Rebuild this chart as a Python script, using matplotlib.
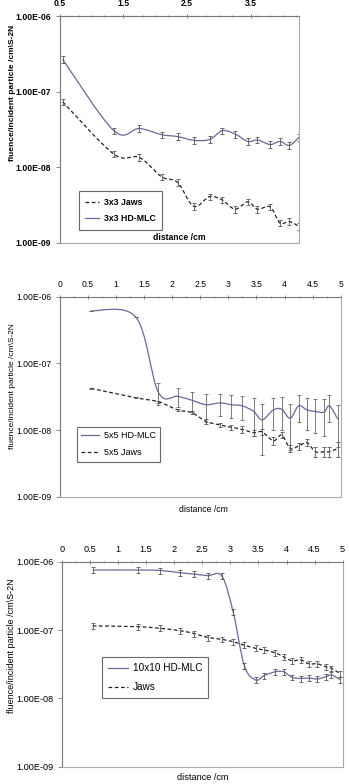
import numpy as np
import matplotlib
matplotlib.use('Agg')
import matplotlib.pyplot as plt
from matplotlib.path import Path
from matplotlib.patches import PathPatch
from matplotlib.lines import Line2D
from matplotlib.ticker import FixedLocator, MultipleLocator, FuncFormatter, NullLocator

plt.rcParams['font.family'] = ['Liberation Sans', 'DejaVu Sans']

# ---- data ----
x_3x3 = [0.55, 1.35, 1.75, 2.1, 2.35, 2.6, 2.85, 3.05, 3.25, 3.45, 3.6, 3.8, 3.95, 4.1, 4.25]
jaws_3x3 = [7.35e-8, 1.5e-8, 1.35e-8, 7.5e-9, 6.3e-9, 3.05e-9, 4.1e-9, 3.7e-9, 2.8e-9,
            3.5e-9, 2.8e-9, 3.0e-9, 1.84e-9, 1.92e-9, 1.66e-9]
mlc_3x3 = [2.67e-7, 3.05e-8, 3.26e-8, 2.7e-8, 2.55e-8, 2.28e-8, 2.33e-8, 3.05e-8, 2.75e-8,
           2.2e-8, 2.3e-8, 2.0e-8, 2.2e-8, 1.95e-8, 2.5e-8]
rel_err_3x3 = [0.10] * 15

x_5x5 = [0.55, 1.35, 1.75, 2.1, 2.35, 2.6, 2.85, 3.05, 3.25, 3.45, 3.6, 3.8, 3.95, 4.1,
         4.25, 4.4, 4.55, 4.7, 4.8, 4.95]
mlc_5x5 = [6.15e-7, 4.95e-7, 3.7e-8, 3.2e-8, 2.8e-8, 2.4e-8, 2.55e-8, 2.4e-8, 2.3e-8, 1.9e-8,
           1.42e-8, 2.0e-8, 2.05e-8, 1.5e-8, 2.3e-8, 2.0e-8, 1.9e-8, 1.85e-8, 2.3e-8, 1.45e-8]
err_mlc_5x5 = [5e-9, 4e-9, 1.3e-8, 1.0e-8, 0.95e-8, 1.1e-8, 0.9e-8, 0.9e-8, 0.9e-8, 1.1e-8,
               1.0e-8, 1.0e-8, 1.05e-8, 1.0e-8, 1.0e-8, 1.0e-8, 1.0e-8, 1.05e-8, 1.0e-8, 0.9e-8]
jaws_5x5 = [4.22e-8, 3.05e-8, 2.66e-8, 2.0e-8, 1.82e-8, 1.35e-8, 1.19e-8, 1.1e-8, 1.02e-8,
            9.1e-9, 9.4e-9, 6.9e-9, 8.4e-9, 5.3e-9, 5.75e-9, 6.45e-9, 4.73e-9, 4.73e-9,
            4.73e-9, 5.3e-9]
rel_err_jaws_5x5 = [0.02, 0.02, 0.04, 0.05, 0.06, 0.08, 0.08, 0.10, 0.11, 0.11, 0.10, 0.13,
                    0.10, 0.13, 0.12, 0.12, 0.18, 0.18, 0.17, 0.25]

x_10x10 = x_5x5
mlc_10x10 = [7.55e-7, 7.55e-7, 7.45e-7, 6.9e-7, 6.6e-7, 6.25e-7, 6.15e-7, 1.85e-7, 3.0e-8,
             1.86e-8, 2.15e-8, 2.45e-8, 2.45e-8, 2.03e-8, 1.96e-8, 1.98e-8, 1.92e-8, 2.07e-8,
             2.2e-8, 1.88e-8]
jaws_10x10 = [1.15e-7, 1.12e-7, 1.06e-7, 9.8e-8, 8.9e-8, 7.8e-8, 7.3e-8, 6.75e-8, 6.0e-8,
              5.4e-8, 5.1e-8, 4.65e-8, 4.05e-8, 3.55e-8, 3.65e-8, 3.2e-8, 3.2e-8, 2.9e-8,
              2.75e-8, 2.3e-8]
rel_err_10x10 = [0.10] * 20

ticks_3x3 = [0.5, 1.5, 2.5, 3.5]
ticks_5 = [0, 0.5, 1, 1.5, 2, 2.5, 3, 3.5, 4, 4.5, 5]
ylabel = 'fluence/incident particle /cm\\S-2N'

MLC_COLOR = '#6a6a9a'
JAWS_COLOR = '#222222'
ERR_COLOR = '#555555'
DASH = (0, (3, 2))


def smooth_path(x, y):
    # Excel-like smoothed line: Catmull-Rom Bezier in (x, log y)
    P = np.column_stack([np.asarray(x, float), np.log10(y)])
    Pe = np.vstack([P[0], P, P[-1]])
    verts = [P[0]]
    codes = [Path.MOVETO]
    for i in range(len(P) - 1):
        p0, p1, p2, p3 = Pe[i], Pe[i + 1], Pe[i + 2], Pe[i + 3]
        verts += [p1 + (p2 - p0) / 6, p2 - (p3 - p1) / 6, p2]
        codes += [Path.CURVE4] * 3
    verts = np.array(verts)
    verts[:, 1] = 10 ** verts[:, 1]
    return Path(verts, codes)


def draw_series(ax, x, y, err, color, ls, ecolor=ERR_COLOR):
    ax.add_patch(PathPatch(smooth_path(x, y), fill=False, ec=color, lw=0.9, ls=ls))
    ax.errorbar(x, y, yerr=err, fmt='none', ecolor=ecolor, elinewidth=0.6,
                capsize=1.6, capthick=0.6)


def style_axes(ax, xlim, ticks, minor, weight, size):
    ax.set_yscale('log')
    ax.set_ylim(1e-9, 1e-6)
    ax.set_xlim(*xlim)
    ax.xaxis.tick_top()
    ax.xaxis.set_major_locator(FixedLocator(ticks))
    ax.xaxis.set_minor_locator(MultipleLocator(minor))
    ax.xaxis.set_major_formatter(FuncFormatter(lambda v, p: '%g' % v))
    ax.yaxis.set_major_locator(FixedLocator([1e-9, 1e-8, 1e-7, 1e-6]))
    ax.yaxis.set_minor_locator(NullLocator())
    ax.yaxis.set_major_formatter(FuncFormatter(lambda v, p: '%.2E' % v))
    ax.tick_params(axis='x', which='major', direction='inout', length=3, width=0.6,
                   color='#777777', labelsize=size, pad=4)
    ax.tick_params(axis='x', which='minor', direction='inout', length=2, width=0.5,
                   color='#777777')
    ax.tick_params(axis='y', which='major', direction='out', length=3, width=0.6,
                   color='#777777', labelsize=size, pad=3)
    for lab in ax.get_xticklabels() + ax.get_yticklabels():
        lab.set_fontweight(weight)
    for side in ['left', 'top']:
        ax.spines[side].set_color('#777777')
        ax.spines[side].set_linewidth(0.8)
    for side in ['right', 'bottom']:
        ax.spines[side].set_color('#aaaaaa')
        ax.spines[side].set_linewidth(0.8)


def handles(styles):
    return [Line2D([], [], color=c, ls=s, lw=0.9) for c, s in styles]


def add_legend(ax, styles, labels, anchor, prop, hl, pad):
    leg = ax.legend(handles(styles), labels, loc='lower left', bbox_to_anchor=anchor,
                    borderaxespad=0, prop=prop, frameon=True, fancybox=False,
                    edgecolor='#444444', labelspacing=0.9, handlelength=hl,
                    handletextpad=0.5, borderpad=pad)
    leg.get_frame().set_linewidth(0.8)


W, H = 349, 784
fig = plt.figure(figsize=(W / 100, H / 100), dpi=100)

# ---- panel 1: 3x3 ----
ax1 = fig.add_axes([59.5 / W, 1 - 243 / H, 239.5 / W, 227 / H])
draw_series(ax1, x_3x3, mlc_3x3, np.array(rel_err_3x3) * mlc_3x3, MLC_COLOR, '-')
draw_series(ax1, x_3x3, jaws_3x3, np.array(rel_err_3x3) * jaws_3x3, JAWS_COLOR, DASH)
style_axes(ax1, (0.5, 4.25), ticks_3x3, 0.2, 'bold', 6.2)
ax1.text(0.5, 0.025, 'distance /cm', transform=ax1.transAxes, ha='center', va='center',
         fontsize=6.2, fontweight='bold')
add_legend(ax1, ([JAWS_COLOR, DASH], [MLC_COLOR, '-']), ['3x3 Jaws', '3x3 HD-MLC'],
           (0.081, 0.057), {'weight': 'bold', 'size': 6.3}, 1.6, 0.75)
fig.text(13 / W, 1 - 92.5 / H, ylabel, rotation=90, ha='center', va='center',
         fontsize=6, fontweight='bold')

# ---- panel 2: 5x5 ----
ax2 = fig.add_axes([60 / W, 1 - 496.7 / H, 280.7 / W, 200 / H])
draw_series(ax2, x_5x5, mlc_5x5, err_mlc_5x5, MLC_COLOR, '-', ecolor='#666666')
draw_series(ax2, x_5x5, jaws_5x5, np.array(rel_err_jaws_5x5) * jaws_5x5, JAWS_COLOR, DASH)
style_axes(ax2, (0, 5), ticks_5, 0.25, 'normal', 6.2)
ax2.text(0.51, -0.062, 'distance /cm', transform=ax2.transAxes, ha='center', va='center',
         fontsize=6.2)
add_legend(ax2, ([MLC_COLOR, '-'], [JAWS_COLOR, DASH]), ['5x5 HD-MLC', '5x5 Jaws'],
           (0.0595, 0.175), {'size': 6.5}, 2.0, 0.5)
fig.text(12.5 / W, 1 - 386 / H, ylabel, rotation=90, ha='center', va='center', fontsize=6)

# ---- panel 3: 10x10 ----
ax3 = fig.add_axes([61.7 / W, 1 - 766.7 / H, 281 / W, 205 / H])
draw_series(ax3, x_10x10, mlc_10x10, np.array(rel_err_10x10) * mlc_10x10, MLC_COLOR, '-')
draw_series(ax3, x_10x10, jaws_10x10, np.array(rel_err_10x10) * jaws_10x10, JAWS_COLOR, DASH)
style_axes(ax3, (0, 5), ticks_5, 0.25, 'normal', 6.6)
ax3.text(0.503, -0.054, 'distance /cm', transform=ax3.transAxes, ha='center', va='center',
         fontsize=6.6)
add_legend(ax3, ([MLC_COLOR, '-'], [JAWS_COLOR, DASH]), ['10x10 HD-MLC', 'Jaws'],
           (0.142, 0.334), {'size': 7.2}, 2.0, 0.6)
fig.text(12 / W, 1 - 646 / H, ylabel, rotation=90, ha='center', va='center', fontsize=6.5)

fig.savefig('out.png', dpi=100)
